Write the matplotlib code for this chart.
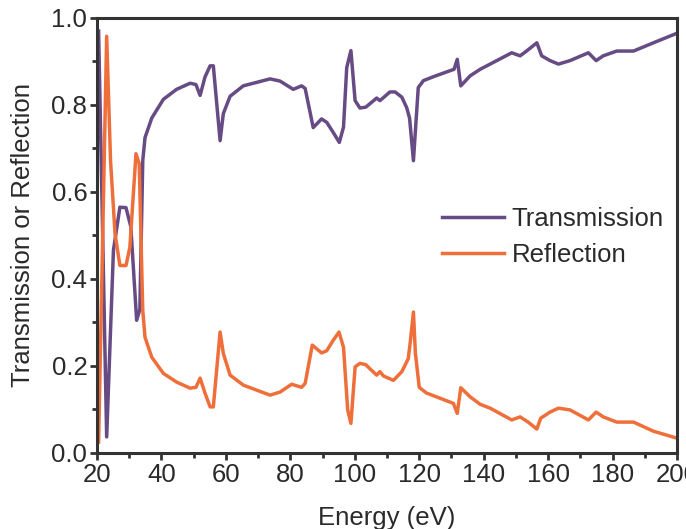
import numpy as np
import matplotlib
matplotlib.use('Agg')
import matplotlib.pyplot as plt
from matplotlib.ticker import MultipleLocator

plt.rcParams['font.family'] = ['Liberation Sans', 'DejaVu Sans']

# Transmission curve
energy_t = [20.5, 23.0, 25.1, 27.1, 29.0, 30.5, 32.3, 33.3, 34.2, 34.9, 37.0, 40.6, 44.7,
            48.9, 50.7, 52.0, 53.5, 55.1, 56.1, 58.2, 59.2, 61.3, 65.4, 73.7, 76.8,
            80.9, 83.5, 84.6, 87.1, 89.7, 91.3, 93.3, 95.2, 96.5, 97.5, 98.8, 100.1,
            101.6, 103.4, 105.2, 106.8, 107.8, 108.9, 110.9, 112.5, 114.6, 116.1,
            117.0, 118.2, 119.7, 121.3, 124.4, 128.5, 130.8, 131.8, 132.9, 135.8,
            138.9, 142.0, 148.7, 151.3, 153.3, 156.5, 158.0, 160.6, 163.2, 166.8,
            172.5, 174.9, 177.1, 181.3, 186.5, 192.7, 200.0]
trans = [0.97, 0.037, 0.466, 0.565, 0.564, 0.52, 0.305, 0.33, 0.672, 0.725, 0.77, 0.813, 0.836,
         0.85, 0.847, 0.822, 0.864, 0.89, 0.89, 0.718, 0.78, 0.82, 0.844, 0.86, 0.855,
         0.836, 0.844, 0.838, 0.748, 0.768, 0.76, 0.737, 0.714, 0.749, 0.886, 0.925, 0.81,
         0.793, 0.795, 0.806, 0.816, 0.81, 0.817, 0.83, 0.83, 0.818, 0.794,
         0.77, 0.672, 0.84, 0.856, 0.865, 0.876, 0.882, 0.905, 0.844, 0.867,
         0.882, 0.894, 0.92, 0.913, 0.924, 0.943, 0.913, 0.902, 0.894, 0.902,
         0.92, 0.902, 0.913, 0.924, 0.924, 0.943, 0.965]

# Reflection curve
energy_r = [20.5, 23.0, 24.2, 25.6, 27.1, 29.0, 30.2, 32.1, 33.1, 34.2, 34.9, 37.0, 40.6,
            44.7, 48.9, 50.7, 52.0, 53.5, 55.1, 56.1, 58.2, 59.2, 61.3, 65.4, 73.7,
            76.8, 80.4, 83.5, 84.6, 86.8, 89.7, 91.3, 93.3, 95.1, 96.5, 97.8, 98.8,
            100.1, 101.6, 103.4, 105.2, 106.8, 107.8, 108.9, 112.0, 114.6, 116.6,
            117.3, 118.2, 118.8, 120.0, 122.2, 130.6, 131.8, 132.9, 135.8, 138.9,
            142.0, 148.7, 151.3, 153.8, 156.5, 157.7, 160.6, 163.2, 166.8, 172.5,
            174.9, 177.1, 181.3, 186.5, 192.7, 200.0]
refl = [0.025, 0.958, 0.672, 0.504, 0.431, 0.431, 0.473, 0.688, 0.665, 0.328, 0.266, 0.22, 0.183,
        0.163, 0.149, 0.151, 0.172, 0.138, 0.106, 0.106, 0.278, 0.229, 0.179, 0.156, 0.133,
        0.14, 0.158, 0.151, 0.16, 0.248, 0.23, 0.235, 0.259, 0.278, 0.243, 0.099, 0.068,
        0.198, 0.206, 0.203, 0.19, 0.179, 0.187, 0.177, 0.167, 0.187, 0.217,
        0.26, 0.324, 0.23, 0.151, 0.138, 0.114, 0.091, 0.15, 0.129, 0.112,
        0.103, 0.076, 0.083, 0.071, 0.055, 0.08, 0.094, 0.103, 0.099, 0.076,
        0.094, 0.083, 0.071, 0.071, 0.05, 0.034]

purple = '#674b85'
orange = '#ef6f3b'
spine_col = '#333333'
txt_col = '#2a2a2a'

fig = plt.figure(figsize=(6.86, 5.29), dpi=100)
ax = fig.add_axes([0.1414, 0.1437, 0.8455, 0.8223])

ax.plot(energy_t, trans, color=purple, lw=2.5, label='Transmission', solid_joinstyle='round')
ax.plot(energy_r, refl, color=orange, lw=2.5, label='Reflection', solid_joinstyle='round')

ax.set_xlim(20, 200)
ax.set_ylim(0, 1.0)
ax.xaxis.set_major_locator(MultipleLocator(20))
ax.xaxis.set_minor_locator(MultipleLocator(10))
ax.yaxis.set_major_locator(MultipleLocator(0.2))
ax.yaxis.set_minor_locator(MultipleLocator(0.1))
ax.yaxis.set_major_formatter(plt.FormatStrFormatter('%.1f'))

for sp in ax.spines.values():
    sp.set_linewidth(2.2)
    sp.set_color(spine_col)
ax.tick_params(which='major', direction='out', length=5, width=2, color=spine_col,
               labelsize=18.5, labelcolor=txt_col, pad=2)
ax.tick_params(which='minor', direction='out', length=3.5, width=2, color=spine_col)

ax.set_xlabel('Energy (eV)', fontsize=18.5, color=txt_col, labelpad=14)
ax.set_ylabel('Transmission or Reflection', fontsize=18.5, color=txt_col, labelpad=12)

ax.legend(loc='center left', bbox_to_anchor=(0.595, 0.497), frameon=False, fontsize=18.5,
          handlelength=2.4, handletextpad=0.3, borderpad=0, borderaxespad=0,
          labelspacing=0.45, labelcolor=txt_col)

fig.savefig('out.png', dpi=100)
